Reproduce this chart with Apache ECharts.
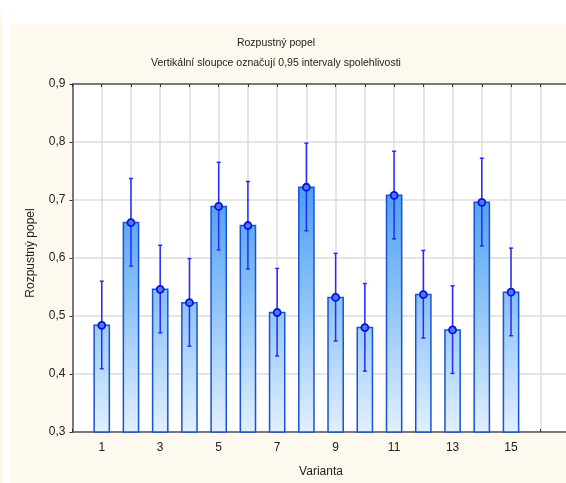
<!DOCTYPE html>
<html>
<head>
<meta charset="utf-8">
<script src="https://cdn.jsdelivr.net/npm/echarts@6/dist/echarts.min.js"></script>
<style>
  html, body { margin: 0; padding: 0; background: #ffffff; overflow: hidden; }
  #chart { width: 600px; height: 483px; }
</style>
</head>
<body>
<div id="chart"></div>
<script>
// Rozpustný popel – průměry variant s 0,95 intervaly spolehlivosti
const varianty = [1, 2, 3, 4, 5, 6, 7, 8, 9, 10, 11, 12, 13, 14, 15];
const prumery = [0.484, 0.661, 0.546, 0.523, 0.689, 0.656, 0.506, 0.722, 0.532, 0.480, 0.708, 0.537, 0.476, 0.696, 0.541];
const dolniMez = [0.409, 0.586, 0.471, 0.448, 0.614, 0.581, 0.431, 0.647, 0.457, 0.405, 0.633, 0.462, 0.401, 0.621, 0.466];
const horniMez = [0.560, 0.737, 0.622, 0.599, 0.765, 0.732, 0.582, 0.798, 0.608, 0.556, 0.784, 0.613, 0.552, 0.772, 0.617];
const yTicks = [0.3, 0.4, 0.5, 0.6, 0.7, 0.8, 0.9];

const FONT = 'Liberation Sans, Arial, sans-serif';
const chart = echarts.init(document.getElementById('chart'), null, { renderer: 'canvas' });

const Y_MIN = yTicks[0], Y_MAX = yTicks[yTicks.length - 1];
// the plot runs on past the right edge of the visible window
const GRID = { left: 72.5, top: 84, width: 497, height: 352 };

const barData = varianty.map((v, i) => [v, prumery[i]]);
const errData = varianty.map((v, i) => [v, dolniMez[i], horniMez[i]]);

// Barva sloupců závisí na výšce v grafu (globální přechod)
const yPix = v => GRID.top + GRID.height * (Y_MAX - v) / (Y_MAX - Y_MIN);
const barFill = new echarts.graphic.LinearGradient(0, yPix(0.76), 0, yPix(Y_MIN), [
  { offset: 0, color: '#3d97f4' },
  { offset: 0.5, color: '#8cc3f8' },
  { offset: 1, color: '#e4f1ff' }
], true);

const option = {
  animation: false,
  backgroundColor: '#ffffff',
  graphic: [
    { type: 'rect', z: -10, shape: { x: 10, y: 24, width: 600, height: 470 }, style: { fill: '#fef9ee' } },
    { type: 'rect', z: -10, shape: { x: 0, y: 10, width: 3, height: 480 }, style: { fill: '#fef9ee' } },
    { type: 'text', z: 5, x: 31, y: 253, rotation: Math.PI / 2,
      style: { text: 'Rozpustný popel', font: '12px ' + FONT, fill: '#222', align: 'center', verticalAlign: 'middle' } }
  ],
  title: {
    text: 'Rozpustný popel',
    subtext: 'Vertikální sloupce označují 0,95 intervaly spolehlivosti',
    left: 271, top: 33, textAlign: 'center', itemGap: 9,
    textStyle: { fontFamily: FONT, fontSize: 10.5, fontWeight: 'normal', color: '#222' },
    subtextStyle: { fontFamily: FONT, fontSize: 10.5, color: '#222' }
  },
  grid: { left: GRID.left, top: GRID.top, width: GRID.width, height: GRID.height,
          show: true, backgroundColor: '#ffffff', borderColor: 'transparent', borderWidth: 0 },
  xAxis: [{
    type: 'value', min: 0, max: 17, interval: 1,
    name: 'Varianta', nameLocation: 'middle', nameGap: 34,
    nameTextStyle: { fontFamily: FONT, fontSize: 12, color: '#222' },
    axisLine: { show: true, lineStyle: { color: '#555', width: 1.5 } },
    axisTick: { show: true, inside: true, length: 3, lineStyle: { color: '#333' } },
    axisLabel: { fontFamily: FONT, fontSize: 12, color: '#222', margin: 10,
                 formatter: v => (v >= 1 && v <= 15 && v % 2 === 1) ? String(v) : '' },
    splitLine: { show: true, lineStyle: { color: '#dcdcdc', width: 1.5 } }
  }, {
    type: 'value', position: 'top', min: 0, max: 17, interval: 1,
    axisLine: { show: true, lineStyle: { color: '#555', width: 1.5 } },
    axisTick: { show: true, inside: true, length: 3, lineStyle: { color: '#333' } },
    axisLabel: { show: false }, splitLine: { show: false }
  }],
  yAxis: {
    type: 'value', min: Y_MIN, max: Y_MAX, interval: 0.1,
    axisLine: { show: true, lineStyle: { color: '#555', width: 1.5 } },
    axisTick: { show: true, inside: false, length: 3, lineStyle: { color: '#333' } },
    axisLabel: { fontFamily: FONT, fontSize: 12, color: '#222', margin: 7,
                 formatter: v => v.toFixed(1).replace('.', ',') },
    splitLine: { show: true, lineStyle: { color: '#dcdcdc', width: 1.5 } }
  },
  series: [
    {
      type: 'custom', name: 'sloupce', data: barData, z: 2,
      encode: { x: 0, y: 1 },
      renderItem: (params, api) => {
        const x = api.value(0), v = api.value(1);
        const top = api.coord([x, v]);
        const base = api.coord([x, Y_MIN]);
        const w = api.size([1, 0])[0] * 0.52;
        return {
          type: 'rect',
          shape: { x: top[0] - w / 2, y: top[1], width: w, height: base[1] - top[1] },
          style: { fill: barFill, stroke: '#1a52d4', lineWidth: 1.5 }
        };
      }
    },
    {
      type: 'custom', name: 'intervaly', data: errData, z: 3,
      encode: { x: 0, y: [1, 2] },
      renderItem: (params, api) => {
        const x = api.value(0);
        const lo = api.coord([x, api.value(1)]);
        const hi = api.coord([x, api.value(2)]);
        const c = 2;
        const st = { stroke: '#2828ff', lineWidth: 1.5 };
        return {
          type: 'group',
          children: [
            { type: 'line', shape: { x1: lo[0], y1: lo[1], x2: hi[0], y2: hi[1] }, style: st },
            { type: 'line', shape: { x1: hi[0] - c, y1: hi[1], x2: hi[0] + c, y2: hi[1] }, style: st },
            { type: 'line', shape: { x1: lo[0] - c, y1: lo[1], x2: lo[0] + c, y2: lo[1] }, style: st }
          ]
        };
      }
    },
    {
      type: 'scatter', name: 'průměry', data: barData, z: 4,
      symbol: 'circle', symbolSize: 7,
      itemStyle: { color: '#4a78ff', borderColor: '#0a14d8', borderWidth: 1.8, opacity: 1 }
    }
  ]
};
chart.setOption(option);
</script>
</body>
</html>
